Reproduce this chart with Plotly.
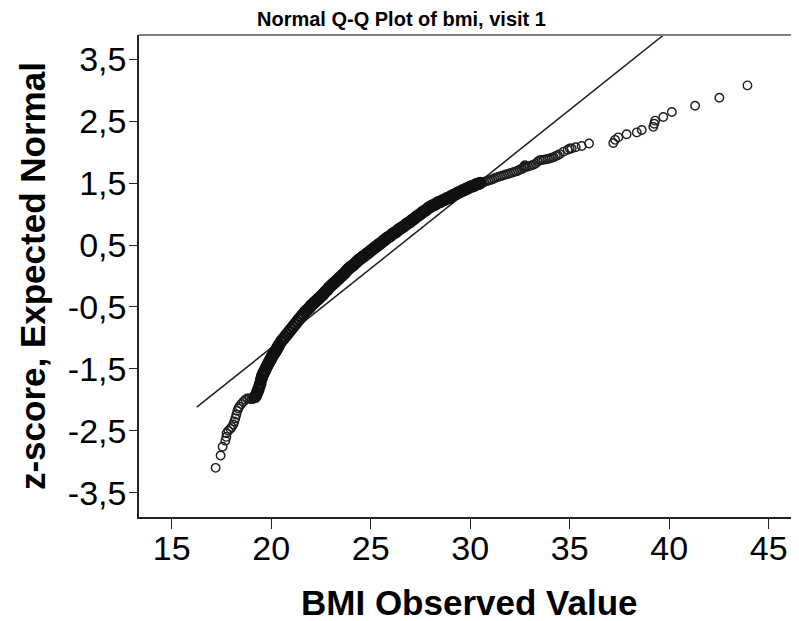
import plotly.graph_objects as go

# ---- data ----
bmi_observed = [
    17.21, 17.46, 17.56, 17.70, 17.75, 17.76, 17.85, 17.95, 18.02, 18.10,
    18.15, 18.20, 18.25, 18.30, 18.35, 18.40, 18.50, 18.60, 18.70, 18.80,
    18.90, 19.00, 19.05, 19.10, 19.15, 19.20, 19.25, 19.30, 19.35, 19.40,
    19.45, 19.50, 19.55, 19.60, 19.65, 19.70, 19.75, 19.80, 19.85, 19.90,
    19.95, 20.00, 20.05, 20.10, 20.15, 20.20, 20.25, 20.30, 20.35, 20.40,
    20.50, 20.60, 20.70, 20.80, 20.90, 21.00, 21.10, 21.20, 21.30, 21.40,
    21.50, 21.60, 21.70, 21.80, 21.90, 22.00, 22.10, 22.20, 22.30, 22.40,
    22.50, 22.60, 22.70, 22.80, 22.90, 23.00, 23.10, 23.20, 23.30, 23.40,
    23.50, 23.60, 23.70, 23.80, 23.90, 24.00, 24.10, 24.20, 24.30, 24.40,
    24.50, 24.60, 24.70, 24.80, 24.90, 25.00, 25.10, 25.20, 25.30, 25.40,
    25.50, 25.60, 25.70, 25.80, 25.90, 26.00, 26.10, 26.20, 26.30, 26.40,
    26.50, 26.60, 26.70, 26.80, 26.90, 27.00, 27.10, 27.20, 27.30, 27.40,
    27.50, 27.60, 27.70, 27.80, 27.90, 28.00, 28.10, 28.20, 28.30, 28.40,
    28.50, 28.60, 28.70, 28.80, 28.90, 29.00, 29.10, 29.20, 29.30, 29.40,
    29.50, 29.60, 29.70, 29.80, 29.90, 30.00, 30.10, 30.20, 30.30, 30.40,
    30.50, 30.60, 30.70, 30.80, 30.90, 31.00, 31.10, 31.20, 31.30, 31.40,
    31.50, 31.60, 31.70, 31.80, 31.90, 32.00, 32.10, 32.20, 32.30, 32.40,
    32.50, 32.60, 32.70, 32.70, 32.75, 32.80, 32.90, 33.00, 33.10, 33.20,
    33.30, 33.40, 33.50, 33.60, 33.70, 33.80, 33.90, 34.00, 34.10, 34.20,
    34.30, 34.40, 34.50, 34.70, 34.90, 35.00, 35.10, 35.30, 35.60, 35.97,
    37.19, 37.28, 37.44, 37.86, 38.37, 38.62, 39.20, 39.25, 39.29, 39.70,
    40.13, 41.30, 42.52, 43.93,
]
z_expected = [
    -3.10, -2.90, -2.76, -2.66, -2.60, -2.54, -2.50, -2.47, -2.44, -2.40,
    -2.35, -2.30, -2.24, -2.18, -2.14, -2.11, -2.07, -2.03, -2.00, -1.98,
    -1.98, -1.99, -1.99, -1.98, -1.97, -1.95, -1.92, -1.88, -1.84, -1.79,
    -1.74, -1.67, -1.62, -1.58, -1.55, -1.52, -1.48, -1.45, -1.42, -1.39,
    -1.36, -1.33, -1.30, -1.27, -1.25, -1.22, -1.20, -1.17, -1.14, -1.11,
    -1.06, -1.02, -0.98, -0.94, -0.90, -0.86, -0.82, -0.78, -0.74, -0.70,
    -0.66, -0.62, -0.58, -0.55, -0.52, -0.48, -0.45, -0.42, -0.39, -0.36,
    -0.33, -0.30, -0.26, -0.23, -0.19, -0.16, -0.13, -0.10, -0.07, -0.04,
    -0.01, 0.02, 0.05, 0.09, 0.12, 0.15, 0.17, 0.20, 0.23, 0.26,
    0.28, 0.31, 0.33, 0.36, 0.38, 0.41, 0.43, 0.46, 0.48, 0.51,
    0.53, 0.56, 0.58, 0.61, 0.63, 0.65, 0.68, 0.70, 0.72, 0.75,
    0.77, 0.79, 0.81, 0.84, 0.86, 0.88, 0.91, 0.93, 0.96, 0.98,
    1.00, 1.03, 1.05, 1.07, 1.10, 1.12, 1.14, 1.15, 1.17, 1.19,
    1.20, 1.22, 1.23, 1.25, 1.26, 1.28, 1.30, 1.31, 1.33, 1.35,
    1.36, 1.38, 1.39, 1.41, 1.42, 1.44, 1.45, 1.46, 1.48, 1.49,
    1.50, 1.51, 1.52, 1.53, 1.54, 1.55, 1.56, 1.575, 1.59, 1.60,
    1.61, 1.62, 1.63, 1.64, 1.65, 1.66, 1.67, 1.68, 1.69, 1.70,
    1.72, 1.73, 1.75, 1.77, 1.79, 1.76, 1.77, 1.78, 1.79, 1.80,
    1.82, 1.85, 1.87, 1.875, 1.88, 1.885, 1.89, 1.90, 1.91, 1.92,
    1.94, 1.95, 1.97, 2.01, 2.04, 2.06, 2.06, 2.08, 2.10, 2.14,
    2.15, 2.20, 2.24, 2.29, 2.32, 2.36, 2.41, 2.46, 2.51, 2.57,
    2.65, 2.75, 2.88, 3.08,
]

# expected-normal reference line (end points)
ref_line_x = [16.26, 39.70]
ref_line_y = [-2.12, 3.89]

y_tick_vals = [-3.5, -2.5, -1.5, -0.5, 0.5, 1.5, 2.5, 3.5]
y_tick_text = ["-3,5", "-2,5", "-1,5", "-0,5", "0,5", "1,5", "2,5", "3,5"]
x_tick_vals = [15, 20, 25, 30, 35, 40, 45]
x_tick_text = ["15", "20", "25", "30", "35", "40", "45"]

FONT = "Arial, 'Liberation Sans', sans-serif"
INK = "#1e1e1e"

# the page body has an 8px default margin: the figure is sized so that it
# ends exactly at the right/bottom edge of the 799x621 window
W, H = 791, 613

dense = [(x, y) for x, y in zip(bmi_observed, z_expected) if 19.2 <= x <= 30.5]
sparse = [(x, y) for x, y in zip(bmi_observed, z_expected) if not (19.2 <= x <= 30.5)]

fig = go.Figure()
fig.add_trace(go.Scatter(
    x=ref_line_x, y=ref_line_y, mode="lines",
    line=dict(color=INK, width=1.5),
    hoverinfo="skip", showlegend=False,
))
fig.add_trace(go.Scatter(
    x=[p[0] for p in sparse], y=[p[1] for p in sparse], mode="markers",
    marker=dict(symbol="circle-open", size=8.5, color=INK,
                line=dict(width=1.4, color=INK)),
    showlegend=False,
))
fig.add_trace(go.Scatter(
    x=[p[0] for p in dense], y=[p[1] for p in dense], mode="markers",
    marker=dict(symbol="circle-open", size=10, color="#111",
                line=dict(width=2.6, color="#111")),
    showlegend=False,
))

fig.update_layout(
    width=W, height=H,
    margin=dict(l=131, r=0, t=27, b=104),
    paper_bgcolor="white", plot_bgcolor="white",
    font=dict(family=FONT, color="black"),
    title=dict(text="<b>Normal Q-Q Plot of bmi, visit 1</b>",
               font=dict(size=20, family=FONT, color="black"),
               x=0.4974, xanchor="center", y=0.982, yanchor="middle"),
    xaxis=dict(
        range=[13.36, 46.52], showgrid=False, zeroline=False,
        showline=True, linecolor="#222", linewidth=1.5,
        ticks="outside", ticklen=10, tickwidth=1.3, tickcolor="#222",
        tickvals=x_tick_vals, ticktext=x_tick_text,
        tickfont=dict(size=34, family=FONT, color="black"),
        ticklabelstandoff=-10,
    ),
    yaxis=dict(
        range=[-3.894, 3.894], showgrid=False, zeroline=False,
        showline=True, linecolor="#222", linewidth=1.5,
        ticks="outside", ticklen=8, tickwidth=1.3, tickcolor="#222",
        tickvals=y_tick_vals, ticktext=y_tick_text,
        tickfont=dict(size=34, family=FONT, color="black"),
        ticklabelstandoff=-4,
    ),
    shapes=[dict(type="line", xref="paper", yref="paper",
                 x0=0, x1=1, y0=1, y1=1,
                 line=dict(color="#808080", width=2))],
    annotations=[
        dict(text="<b>BMI Observed Value</b>", xref="paper", yref="paper",
             x=0.5, y=-0.178, xanchor="center", yanchor="middle",
             showarrow=False, font=dict(size=35, family=FONT, color="black")),
        dict(text="<b>z-score, Expected Normal</b>", xref="paper", yref="paper",
             x=-0.162, y=0.5, xanchor="center", yanchor="middle", textangle=-90,
             showarrow=False, font=dict(size=35, family=FONT, color="black")),
    ],
)

fig.write_html("out.html")
